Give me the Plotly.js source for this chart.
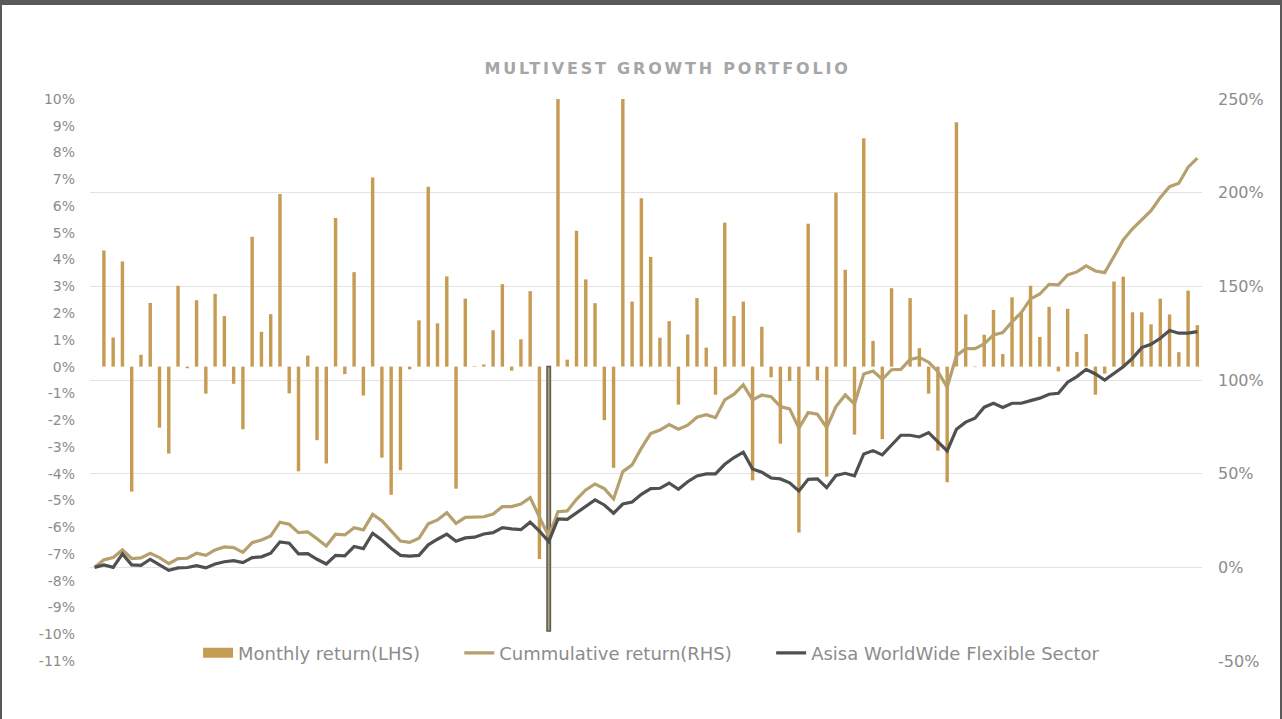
<!DOCTYPE html>
<html>
<head>
<meta charset="utf-8">
<script src="https://cdn.plot.ly/plotly-3.0.1.min.js"></script>
<style>
  html, body { margin: 0; padding: 0; background: #fff; }
  #wrap { position: relative; width: 1282px; height: 719px; overflow: hidden; }
  #chart { position: absolute; left: 0; top: 0; width: 1282px; height: 719px; }
  .bt { position: absolute; left: 0; top: 0; width: 1282px; height: 5px; background: #595959; }
  .bl { position: absolute; left: 0; top: 0; width: 2px; height: 719px; background: #595959; }
  .br { position: absolute; right: 0; top: 0; width: 2px; height: 719px; background: #595959; }
</style>
</head>
<body>
<div id="wrap">
  <div id="chart"></div>
  <div class="bt"></div><div class="bl"></div><div class="br"></div>
</div>
<script>
// Monthly return (LHS, %), index 0 = start (no bar)
const monthlyReturn = [null,
  4.34, 1.09, 3.93, -4.67, 0.44, 2.38, -2.28, -3.25, 3.02, -0.06,
  2.48, -1.01, 2.72, 1.89, -0.64, -2.34, 4.85, 1.30, 1.96, 6.45,
  -1.00, -3.91, 0.41, -2.75, -3.62, 5.55, -0.28, 3.53, -1.08, 7.07,
  -3.40, -4.79, -3.87, -0.10, 1.73, 6.72, 1.62, 3.37, -4.56, 2.54,
  0.02, 0.08, 1.36, 3.08, -0.15, 1.02, 2.82, -7.19, -9.88, 10.6,
  0.26, 5.08, 3.26, 2.37, -2.00, -3.78, 10.7, 2.43, 6.29, 4.10,
  1.08, 1.70, -1.42, 1.20, 2.56, 0.71, -1.05, 5.38, 1.89, 2.43,
  -4.25, 1.49, -0.40, -2.88, -0.54, -6.20, 5.34, -0.51, -4.11, 6.50,
  3.62, -2.54, 8.53, 0.96, -2.71, 2.93, 0.00, 2.56, 0.69, -1.01,
  -3.14, -4.32, 9.13, 1.95, -0.02, 1.19, 2.12, 0.47, 2.59, 2.05,
  3.02, 1.11, 2.23, -0.18, 2.16, 0.55, 1.22, -1.05, -0.26, 3.18,
  3.36, 2.03, 2.03, 1.58, 2.54, 1.95, 0.54, 2.84, 1.55
];

// Cumulative return (RHS, %)
const cumulativeReturn = [
  0, 4.0, 5.2, 9.3, 4.7, 5.0, 7.5, 5.2, 2.0, 4.7,
  4.85, 7.5, 6.4, 9.3, 10.9, 10.5, 8.0, 13.2, 14.6, 16.8,
  24.1, 23.0, 18.5, 18.9, 15.3, 11.4, 17.7, 17.3, 21.2, 20.0,
  28.3, 24.9, 19.5, 14.0, 13.3, 15.5, 23.2, 25.3, 29.2, 23.5,
  26.7, 26.9, 27.0, 28.5, 32.4, 32.4, 33.8, 37.2, 27.3, 16.5,
  29.7, 30.1, 36.3, 41.3, 44.5, 42.0, 36.5, 51.1, 54.7, 63.6,
  71.4, 73.3, 76.2, 73.7, 75.9, 80.1, 81.5, 79.9, 89.4, 92.4,
  97.4, 89.4, 92.0, 91.1, 85.8, 84.6, 74.3, 82.6, 81.7, 74.6,
  85.8, 92.0, 87.2, 103.2, 104.8, 100.4, 105.5, 105.7, 111.0, 112.1,
  109.5, 104.5, 96.1, 113.0, 116.7, 116.7, 119.3, 124.1, 125.3, 131.0,
  136.0, 143.3, 145.9, 151.1, 150.8, 156.1, 157.7, 160.9, 158.2, 157.3,
  165.9, 174.8, 180.7, 185.8, 190.4, 197.4, 203.2, 205.0, 213.6, 218.4
];

// Asisa WorldWide Flexible Sector (RHS, %)
const sectorReturn = [
  0, 1.3, 0.0, 7.2, 1.3, 1.1, 4.3, 1.1, -1.6, -0.3,
  -0.1, 0.9, -0.3, 1.8, 3.0, 3.6, 2.5, 5.2, 5.6, 7.5,
  13.6, 12.9, 7.2, 7.3, 4.3, 1.8, 6.4, 6.1, 11.1, 10.0,
  18.2, 14.6, 10.2, 6.4, 6.0, 6.4, 12.0, 15.0, 17.7, 13.9,
  15.7, 16.1, 17.8, 18.5, 21.2, 20.5, 20.1, 24.1, 19.4, 13.7,
  25.8, 25.6, 28.9, 32.4, 36.0, 33.3, 28.9, 33.8, 34.9, 39.0,
  42.0, 42.2, 45.0, 41.7, 45.7, 48.8, 49.9, 49.9, 55.0, 58.6,
  61.5, 52.5, 50.8, 47.7, 47.2, 45.1, 40.8, 47.0, 47.2, 42.5,
  49.0, 50.2, 48.8, 60.5, 62.3, 60.0, 65.0, 70.5, 70.5, 69.6,
  71.9, 67.1, 62.1, 73.7, 77.5, 79.6, 85.5, 87.6, 85.3, 87.6,
  87.6, 89.0, 90.3, 92.4, 92.9, 98.8, 101.8, 105.7, 103.2, 100.0,
  103.6, 107.1, 111.6, 117.3, 119.1, 122.3, 126.4, 125.0, 125.0, 125.8
];

const periods = monthlyReturn.map((_, i) => i);
const highlightIndex = 49;

const leftTicks = [-11,-10,-9,-8,-7,-6,-5,-4,-3,-2,-1,0,1,2,3,4,5,6,7,8,9,10];
const leftTickText = leftTicks.map(v => v + '%');
const rightTicks = [-50, 0, 50, 100, 150, 200, 250];
const rightTickText = rightTicks.map(v => v + '%');

const seriesNames = ['Monthly return(LHS)', 'Cummulative return(RHS)', 'Asisa WorldWide Flexible Sector'];
const gap = '\u00a0\u00a0\u00a0\u00a0\u00a0\u00a0';

const barColor = '#C69B52';
const barColors = periods.map(i => i === highlightIndex ? '#B09C70' : barColor);
const barLineColors = periods.map(i => i === highlightIndex ? '#5A5A5A' : 'rgba(0,0,0,0)');
const barLineWidths = periods.map(i => i === highlightIndex ? 1.5 : 0);

const font = 'DejaVu Sans, Verdana, sans-serif';

const traces = [
  {
    type: 'bar', name: seriesNames[0], showlegend: false,
    x: periods, y: monthlyReturn, yaxis: 'y',
    marker: { color: barColors, line: { color: barLineColors, width: barLineWidths } },
    hoverinfo: 'skip'
  },
  {
    // legend swatch for the bar series
    type: 'scatter', mode: 'lines', name: seriesNames[0] + gap,
    x: [null], y: [null], yaxis: 'y',
    line: { color: barColor, width: 10 }, hoverinfo: 'skip'
  },
  {
    type: 'scatter', mode: 'lines', name: seriesNames[1] + gap,
    x: periods, y: cumulativeReturn, yaxis: 'y2',
    line: { color: '#B5A06E', width: 3.2 }, hoverinfo: 'skip'
  },
  {
    type: 'scatter', mode: 'lines', name: seriesNames[2],
    x: periods, y: sectorReturn, yaxis: 'y2',
    line: { color: '#505050', width: 3.2 }, hoverinfo: 'skip'
  }
];

const layout = {
  width: 1282, height: 719,
  margin: { l: 90, r: 80, t: 99, b: 58, pad: 0, autoexpand: false },
  paper_bgcolor: '#ffffff', plot_bgcolor: 'rgba(0,0,0,0)',
  showlegend: true,
  bargap: 0.63,
  title: {
    text: '<b>MULTIVEST GROWTH PORTFOLIO</b>',
    font: { family: font, size: 16, color: '#A6A6A6' },
    x: 0.5207, xref: 'container', xanchor: 'center',
    y: 1 - 68/719, yref: 'container', yanchor: 'middle'
  },
  xaxis: {
    range: [-0.5, 119.5], showticklabels: false, showgrid: false,
    zeroline: false, showline: false, ticks: ''
  },
  yaxis: {
    range: [-11, 10], tickvals: leftTicks, ticktext: leftTickText,
    showgrid: false, zeroline: false, showline: false,
    tickfont: { family: font, size: 14, color: '#8C8C8C' },
    ticklabelstandoff: 14
  },
  yaxis2: {
    overlaying: 'y', side: 'right', range: [-50, 250], tickvals: rightTicks,
    ticktext: rightTickText, showgrid: true, gridcolor: '#E3E3E3', gridwidth: 1,
    zeroline: false, showline: false,
    tickfont: { family: font, size: 16, color: '#8C8C8C' },
    ticklabelstandoff: 15
  },
  legend: {
    orientation: 'h', x: 0.505, xanchor: 'center',
    y: 0.014, yanchor: 'middle',
    font: { family: font, size: 18, color: '#8C8C8C' },
    bgcolor: 'rgba(0,0,0,0)', itemwidth: 30
  }
};

Plotly.newPlot('chart', traces, layout, { staticPlot: true, displayModeBar: false }).then(() => {
  const t = document.querySelector('.gtitle');
  if (t) t.style.letterSpacing = '2.8px';
});
</script>
</body>
</html>
